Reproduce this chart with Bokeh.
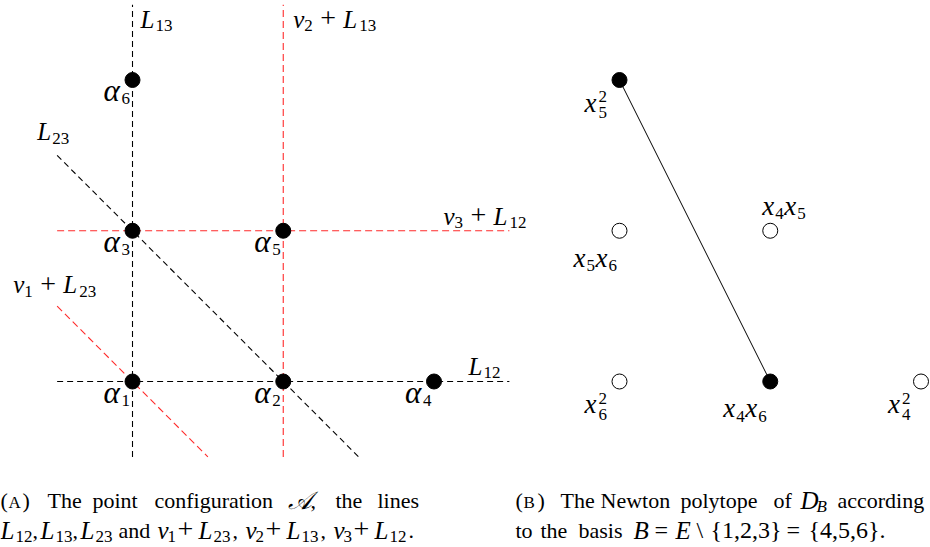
from bokeh.plotting import figure
from bokeh.models import Range1d, ColumnDataSource
from bokeh.core.properties import value
from bokeh.embed import file_html
from bokeh.resources import INLINE

# ---------------- data ----------------
# Panel (A): the point configuration, lattice coordinates of alpha_1 .. alpha_6
alpha_idx = ["1", "2", "3", "4", "5", "6"]
alpha_x = [0, 1, 0, 2, 1, 0]
alpha_y = [0, 0, 1, 0, 1, 2]

# Panel (A): the lines (end points in lattice coordinates)
line_base = ["L", "v", "L", "v", "L", "v"]
line_sub1 = ["13", "2", "12", "3", "23", "1"]
line_sub2 = ["", "13", "", "12", "", "23"]
line_x0 = [0, 1, -0.5, -0.5, -0.5, -0.5]
line_y0 = [-0.5, -0.5, 0, 1, 1.5, 0.5]
line_x1 = [0, 1, 2.5, 2.5, 1.5, 0.5]
line_y1 = [2.5, 2.5, 0, 1, -0.5, -0.5]
line_shifted = [False, True, False, True, False, True]

# Panel (B): degree-2 monomials in x4, x5, x6 (exponent of x4, exponent of x5)
mono_a = ["6", "4", "4", "5", "4", "5"]
mono_b = ["", "6", "", "6", "5", ""]
mono_sq = [True, False, True, False, False, True]
mono_e4 = [0, 1, 2, 0, 1, 0]
mono_e5 = [0, 0, 0, 1, 1, 2]
mono_vertex = [False, True, False, False, False, True]

# ---------------- layout ----------------
W, H = 930, 547
OX, OY = 132.0, 381.0      # pixel position of alpha_1
UNIT = 150.75              # pixels per lattice step
B_SHIFT = 487.0 / UNIT     # horizontal shift of panel (B)
BASE_FIX = 0.30            # svg text baseline correction (em)

def dx(px):
    return px / UNIT

def to_data(px, py):
    return (px - OX) / UNIT, (OY - py) / UNIT

p = figure(width=W, height=H, output_backend="svg", toolbar_location=None,
           x_range=Range1d(to_data(0, 0)[0], to_data(W, 0)[0]),
           y_range=Range1d(to_data(0, H)[1], to_data(0, 0)[1]),
           x_axis_type=None, y_axis_type=None, min_border=0)
p.outline_line_color = None
p.grid.visible = False
p.background_fill_color = "white"
p.border_fill_color = "white"

# ---------------- lines of panel (A) ----------------
for shifted, color, dash in [(False, "black", "6 4"), (True, "#ff2a2a", "7 4")]:
    sel = [i for i in range(len(line_x0)) if line_shifted[i] == shifted]
    p.segment(x0=[line_x0[i] for i in sel], y0=[line_y0[i] for i in sel],
              x1=[line_x1[i] for i in sel], y1=[line_y1[i] for i in sel],
              line_color=color, line_width=1.1, line_dash=dash)

# points alpha
p.scatter(alpha_x, alpha_y, size=15, marker="circle", fill_color="black", line_color="black")

# ---------------- panel (B) ----------------
bx = [e + B_SHIFT for e in mono_e4]
vx = [bx[i] for i in range(6) if mono_vertex[i]]
vy = [mono_e5[i] for i in range(6) if mono_vertex[i]]
p.line(vx, vy, line_color="black", line_width=1)
p.scatter([bx[i] for i in range(6) if not mono_vertex[i]],
          [mono_e5[i] for i in range(6) if not mono_vertex[i]],
          size=15, marker="circle", fill_color="white", line_color="black", line_width=1)
p.scatter(vx, vy, size=15, marker="circle", fill_color="black", line_color="black")

# ---------------- texts ----------------
SERIF = "Liberation Serif"
KINDS = {
    "it": (25, "italic"),
    "xi": (27, "italic"),
    "al": (31, "italic"),
    "sub": (17, "normal"),
    "op": (28, "normal"),
    "rm": (22, "normal"),
    "sc": (17, "normal"),
    "mrm": (24, "normal"),
}
T = dict(x=[], y=[], text=[], size=[], style=[], font=[])

def put(xd, yd, text, kind, font=SERIF, style=None):
    size, st = KINDS[kind]
    T["x"].append(xd); T["y"].append(yd + dx(BASE_FIX * size)); T["text"].append(text)
    T["size"].append(f"{size}px"); T["style"].append(style or st); T["font"].append(font)

def put_rel(ax, ay, ox, oy, text, kind):
    # ax, ay in data units; ox, oy pixel offsets (oy downwards)
    put(ax + dx(ox), ay - dx(oy), text, kind)

def put_px(px, py, text, kind, font=SERIF, style=None):
    xd, yd = to_data(px, py)
    put(xd, yd, text, kind, font, style)

# alpha labels
for i in range(6):
    put_rel(alpha_x[i], alpha_y[i], -29, 20, "\u03b1", "al")
    put_rel(alpha_x[i], alpha_y[i], -11, 24, alpha_idx[i], "sub")

# line labels, anchored at one end of each line: (use end 1?, dx, dy)
line_anchor = [
    (True, 8, 22), (True, 10, 22), (True, -41, -8),
    (True, -66, -7), (False, -20, -16), (False, -44, -14),
]
for i in range(6):
    use1, ox, oy = line_anchor[i]
    ax = line_x1[i] if use1 else line_x0[i]
    ay = line_y1[i] if use1 else line_y0[i]
    if line_sub2[i] == "":
        put_rel(ax, ay, ox, oy, line_base[i], "it")
        put_rel(ax, ay, ox + 15, oy + 4, line_sub1[i], "sub")
    else:
        put_rel(ax, ay, ox, oy, "v", "it")
        put_rel(ax, ay, ox + 11, oy + 4, line_sub1[i], "sub")
        put_rel(ax, ay, ox + 27, oy, "+", "op")
        put_rel(ax, ay, ox + 50, oy, "L", "it")
        put_rel(ax, ay, ox + 66, oy + 4, line_sub2[i], "sub")

# monomial labels
mono_off = [(-35, 31), (-47, 35), (-33, 31), (-46, 35), (-8, -17), (-35, 31)]
for i in range(6):
    ax, ay = bx[i], mono_e5[i]
    ox, oy = mono_off[i]
    put_rel(ax, ay, ox, oy, "x", "xi")
    if mono_sq[i]:
        put_rel(ax, ay, ox + 14, oy - 9, "2", "sub")
        put_rel(ax, ay, ox + 14, oy + 7, mono_a[i], "sub")
    else:
        put_rel(ax, ay, ox + 13, oy + 5, mono_a[i], "sub")
        put_rel(ax, ay, ox + 22, oy, "x", "xi")
        put_rel(ax, ay, ox + 35, oy + 5, mono_b[i], "sub")

# captions
R1, R2 = 507, 537
# (A) row 1
put_px(0, R1, "(", "rm"); put_px(8, R1, "A", "sc"); put_px(22, R1, ")", "rm")
for word, xp in [("The", 47), ("point", 92), ("configuration", 154), ("the", 335), ("lines", 377)]:
    put_px(xp, R1, word, "rm")
put_px(287, R1, "\U0001D49C", "it", font="DejaVu Serif")
put_px(310, R1, ",", "rm")
# (A) row 2
for g, sub, last in [(0, "12", False), (40, "13", False), (80, "23", True)]:
    put_px(g, R2, "L", "it"); put_px(g + 15, R2 + 4, sub, "sub")
    if not last:
        put_px(g + 32, R2, ",", "rm")
put_px(118, R2, "and", "rm")
for g, s1, s2, end in [(157, "1", "23", ","), (245, "2", "13", ","), (333, "3", "12", ".")]:
    put_px(g, R2, "v", "it"); put_px(g + 10, R2 + 4, s1, "sub")
    put_px(g + 20, R2, "+", "op")
    put_px(g + 41, R2, "L", "it"); put_px(g + 56, R2 + 4, s2, "sub")
    put_px(g + 75, R2, end, "rm")
# (B) row 1
put_px(515, R1, "(", "rm"); put_px(523, R1, "B", "sc"); put_px(537, R1, ")", "rm")
for word, xp in [("The", 560), ("Newton", 600), ("polytope", 680), ("of", 773), ("according", 837)]:
    put_px(xp, R1, word, "rm")
put_px(800, R1, "D", "it"); put_px(816, R1 + 4, "B", "sub", style="italic")
# (B) row 2
for word, xp in [("to", 515), ("the", 540), ("basis", 578)]:
    put_px(xp, R2, word, "rm")
put_px(633, R2, "B", "it"); put_px(654, R2, "=", "mrm"); put_px(675, R2, "E", "it")
put_px(696, R2, "\\", "mrm"); put_px(710, R2, "{1,2,3}", "mrm")
put_px(786, R2, "=", "mrm"); put_px(808, R2, "{4,5,6}.", "mrm")

src = ColumnDataSource(T)
p.text(x="x", y="y", text="text", source=src, text_font="font",
       text_font_size="size", text_font_style="style", text_color="black",
       text_align="left", text_baseline="alphabetic")

open("out.html", "w").write(file_html(p, INLINE))
